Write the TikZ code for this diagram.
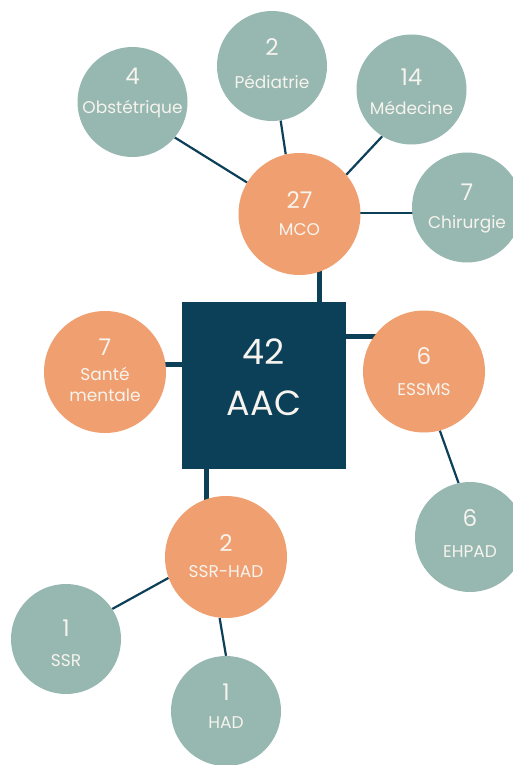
\documentclass[tikz,border=0pt]{standalone}
\usepackage{fontspec}
\setmainfont{Poppins}
\usetikzlibrary{backgrounds}
\definecolor{dk}{HTML}{0C4058}
\definecolor{org}{HTML}{F0A070}
\definecolor{grn}{HTML}{96B8B0}
\definecolor{wt}{HTML}{F7F3EE}
\begin{document}
\begin{tikzpicture}[x=1pt,y=-1pt,
  orb/.style={circle, fill=org, minimum size=122pt, inner sep=0pt},
  grb/.style={circle, fill=grn, minimum size=110pt, inner sep=0pt},
  num/.style={text=wt, font=\fontsize{23}{25}\selectfont, text height=16pt, text depth=0pt, inner sep=0pt},
  lab/.style={text=wt, font=\fontsize{17}{19}\selectfont, text height=11.9pt, text depth=0pt, inner sep=0pt},
  big/.style={text=wt, font=\fontsize{35}{38}\selectfont, text height=24.5pt, text depth=0pt, inner sep=0pt},
  thk/.style={draw=dk, line width=5pt},
  thn/.style={draw=dk, line width=2.2pt}]
\useasboundingbox (0,0) rectangle (513,765);
\clip (0,0) rectangle (513,765);

\node[fill=dk, minimum width=164pt, minimum height=167pt, inner sep=0pt,
  label={[big,yshift=33]center:42}, label={[big,yshift=-18]center:AAC}] (sq) at (264,385.5) {};

\node[orb, label={[num,yshift=14]center:27}, label={[lab,yshift=-16]center:MCO}] (mco) at (299.5,214) {};
\node[orb, label={[num,yshift=25]center:7}, label={[lab,yshift=-3]center:Santé}, label={[lab,yshift=-24]center:mentale}] (sante) at (105,372) {};
\node[orb, label={[num,yshift=15.5]center:6}, label={[lab,yshift=-18.5]center:ESSMS}] (essms) at (424,371.5) {};
\node[orb, label={[num,yshift=14]center:2}, label={[lab,yshift=-15]center:SSR-HAD}] (ssrhad) at (226,557) {};

\node[grb, label={[num,yshift=25]center:4}, label={[lab,yshift=-6]center:Obstétrique}] (obs) at (132.5,102) {};
\node[grb, label={[num,yshift=18]center:2}, label={[lab,yshift=-17]center:Pédiatrie}] (ped) at (272,66) {};
\node[grb, label={[num,yshift=12]center:14}, label={[lab,yshift=-19]center:Médecine}] (med) at (411.5,89.5) {};
\node[grb, label={[num,yshift=15]center:7}, label={[lab,yshift=-15]center:Chirurgie}] (chir) at (467,207.5) {};
\node[grb, label={[num,yshift=19]center:6}, label={[lab,yshift=-15]center:EHPAD}] (ehpad) at (470,537) {};
\node[grb, label={[num,yshift=11]center:1}, label={[lab,yshift=-22]center:SSR}] (ssr) at (66,639) {};
\node[grb, label={[num,yshift=19]center:1}, label={[lab,yshift=-12]center:HAD}] (had) at (226,711) {};

\begin{scope}[on background layer]
  \fill[white] (0,0) rectangle (513,765);
  \draw[thk] ([xshift=55]sq.north) -- ([xshift=55]sq.north |- mco.center);
  \draw[thk] ([yshift=49]sq.east) -- ([yshift=49]sq.east -| essms.center);
  \draw[thk] ([yshift=21.5]sq.west) -- ([yshift=21.5]sq.west -| sante.center);
  \draw[thk] ([xshift=-57.3]sq.south) -- ([xshift=-57.3]sq.south |- ssrhad.center);
  \draw[thn] (obs.-40) -- (mco.149);
  \draw[thn] (ped.-81) -- (mco.103);
  \draw[thn] (med.238) -- (mco.40);
  \draw[thn] ([yshift=1]mco.center) -- ([yshift=1]mco.center -| chir.center);
  \draw[thn] (ssr.33.8) -- (ssrhad.200.9);
  \draw[thn] (had.90) -- (ssrhad.264.4);
  \draw[thn] (essms.285.5) -- (ehpad.102.3);
\end{scope}
\end{tikzpicture}
\end{document}
